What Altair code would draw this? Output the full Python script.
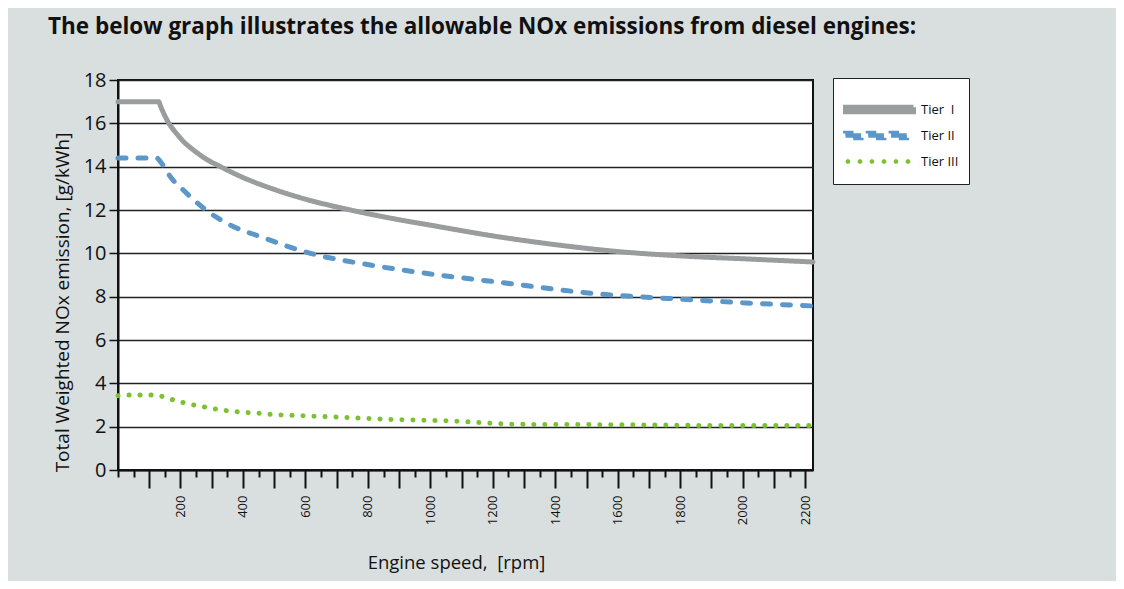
import altair as alt
import pandas as pd

series_names = ["Tier\u00a0 I", "Tier II", "Tier III"]
series_colors = ["#9a9d9d", "#5b97c9", "#7cc132"]

tier1_rpm = [0, 130, 136, 145, 157, 163, 175, 189, 210, 230, 255, 280, 328, 400, 500, 600, 744, 900, 1000, 1202, 1400, 1587, 1842, 2000, 2225]
tier1_nox = [17.0, 17.0, 16.8, 16.5, 16.15, 16.0, 15.75, 15.5, 15.15, 14.9, 14.62, 14.37, 14.0, 13.5, 12.95, 12.5, 12.0, 11.55, 11.3, 10.8, 10.4, 10.1, 9.85, 9.75, 9.6]

tier2_rpm = [0, 125, 132, 140, 150, 160, 175, 200, 240, 296, 360, 456, 616, 808, 1000, 1200, 1522, 1842, 2000, 2225]
tier2_nox = [14.4, 14.4, 14.3, 14.15, 13.95, 13.7, 13.4, 13.05, 12.5, 11.85, 11.3, 10.77, 10.0, 9.46, 9.05, 8.7, 8.15, 7.85, 7.72, 7.57]

tier3_rpm = [0, 46, 120, 154, 189, 225, 260, 296, 331, 367, 403, 440, 477, 584, 690, 797, 904, 1010, 1090, 1170, 1277, 1600, 2000, 2225]
tier3_nox = [3.43, 3.46, 3.46, 3.34, 3.18, 3.06, 2.95, 2.86, 2.77, 2.71, 2.66, 2.63, 2.58, 2.51, 2.45, 2.38, 2.32, 2.29, 2.25, 2.18, 2.11, 2.09, 2.05, 2.05]

x_ticks = list(range(0, 2201, 50))
y_ticks = list(range(0, 19, 2))

rows = []
for name, xs, ys in [(series_names[0], tier1_rpm, tier1_nox),
                     (series_names[1], tier2_rpm, tier2_nox),
                     (series_names[2], tier3_rpm, tier3_nox)]:
    for i, (x, y) in enumerate(zip(xs, ys)):
        rows.append({"series": name, "rpm": x, "nox": y, "order": i})
df = pd.DataFrame(rows)

FONT = "Open Sans"


def poly(points):
    return "M" + "L".join(f"{x:.3f},{y:.3f}" for x, y in points) + "Z"


# legend symbol glyphs (unit = half the symbol size), polygons with M/L only
def bar(a, b, h=0.28):
    return poly([(a, -h), (b, -h), (b, h), (a, h)])


def dot(cx, r=0.28):
    k = r * 0.414
    return poly([(cx - k, -r), (cx + k, -r), (cx + r, -k), (cx + r, k), (cx + k, r),
                 (cx - k, r), (cx - r, k), (cx - r, -k)])


shape_solid = bar(-1, 7.5)
shape_dash = " ".join(bar(-1 + 2.85 * i, 0.95 + 2.85 * i) for i in range(3))
shape_dot = " ".join(dot(-0.69 + 1.5 * i) for i in range(6))

x_axis = alt.Axis(
    values=x_ticks, title="Engine speed,\u00a0 [rpm]", grid=False,
    labelAngle=-90, labelFontSize=13, labelFont=FONT, labelColor="#111",
    labelExpr="datum.value % 200 === 0 && datum.value > 0 ? datum.label : ''",
    labelOverlap=False, labelFlush=False, labelPadding=7,
    tickSize={"condition": {"test": "datum.value % 100 === 0 && datum.value > 0", "value": 18}, "value": 7},
    tickColor="#111", tickWidth=2, domainColor="#111", domainWidth=2,
    titleFont=FONT, titleFontSize=18.5, titleFontWeight="normal", titleColor="#111",
    titleX=338, titleY=92, titleBaseline="middle", format="d",
)
y_axis = alt.Axis(
    values=y_ticks, title="Total Weighted NOx emission, [g/kWh]",
    grid=True, gridColor="#222", gridWidth=1.5,
    labelFontSize=20, labelFont=FONT, labelColor="#111", labelPadding=3,
    tickSize=9, tickColor="#111", tickWidth=1.5, domainColor="#111", domainWidth=2,
    titleFont=FONT, titleFontSize=19, titleFontWeight="normal", titleColor="#111",
    titleX=-56, titleY=222, titleBaseline="middle",
)

x_enc = alt.X("rpm:Q", scale=alt.Scale(domain=[0, 2225], nice=False, zero=True), axis=x_axis)
y_enc = alt.Y("nox:Q", scale=alt.Scale(domain=[0, 18], nice=False), axis=y_axis)
color_scale = alt.Scale(domain=series_names, range=series_colors)

legend = alt.Legend(
    title=" ", titleFontSize=9, titlePadding=2, orient="none", legendX=715, legendY=-2,
    symbolSize=256, symbolStrokeWidth=0.001, symbolStrokeColor="transparent",
    labelFontSize=13, labelFont=FONT,
    labelColor="#111", fillColor="white", strokeColor="#222", padding=10,
    rowPadding=1, labelOffset=57, symbolOpacity=1,
)

# invisible points (size 0) that only carry the legend
legend_layer = alt.Chart(df).mark_point(filled=True, opacity=1, size=0, strokeWidth=0).encode(
    x=x_enc, y=y_enc,
    color=alt.Color("series:N", scale=color_scale, legend=legend),
    shape=alt.Shape("series:N", scale=alt.Scale(domain=series_names, range=[shape_solid, shape_dash, shape_dot]),
                    legend=legend),
)

lines = alt.Chart(df).mark_line(strokeCap="round", interpolate="monotone").encode(
    x=x_enc, y=y_enc,
    color=alt.Color("series:N", scale=color_scale, legend=None),
    strokeDash=alt.StrokeDash("series:N", scale=alt.Scale(domain=series_names, range=[[1, 0], [8, 12], [0.1, 10.9]]),
                              legend=None),
    strokeWidth=alt.StrokeWidth("series:N", scale=alt.Scale(domain=series_names, range=[5, 5, 4.5]),
                                legend=None),
    order="order:Q",
)

chart = alt.layer(legend_layer, lines).properties(
    width=695, height=390,
    title=alt.Title("The below graph illustrates the allowable NOx emissions from diesel engines:",
                    anchor="start", frame="group", font=FONT, fontSize=22.5, fontWeight="bold",
                    color="#111", dx=-70, offset=32),
    autosize=alt.AutoSizeParams(type="none"),
    padding={"left": 110, "top": 72, "right": 303, "bottom": 111},
    background="#d9dedf",
).configure_view(
    fill="white", stroke="#111", strokeWidth=2,
)

chart.save("out.html", embed_options={"renderer": "svg", "actions": False})
